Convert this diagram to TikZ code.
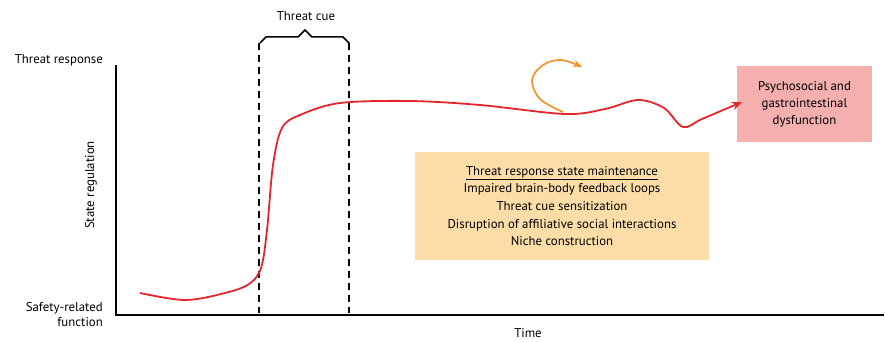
\documentclass[tikz,border=0pt]{standalone}
\usepackage{fontspec}
\setmainfont{PT Sans}
\usetikzlibrary{arrows.meta}
\definecolor{curvered}{HTML}{E2262B}
\definecolor{arcorange}{HTML}{F0932B}
\definecolor{pinkbox}{HTML}{F5AFAF}
\definecolor{orangebox}{HTML}{FCDDA8}
\tikzset{
  lbl/.style={font=\fontsize{12.8}{15}\selectfont, inner sep=0pt},
  axisline/.style={line width=1.7pt},
  cueline/.style={line width=1.7pt, dash pattern=on 7pt off 5pt},
  boxtext/.style={font=\fontsize{12.8}{17.6}\selectfont, align=center, inner sep=0pt}
}
\begin{document}
\begin{tikzpicture}[x=1pt,y=-1pt]
\useasboundingbox (0,0) rectangle (885,342);
% axes
\coordinate (ytop) at (116,65);
\coordinate (orig) at (116,315);
\coordinate (xend) at (884,315);
\draw[axisline] (ytop) -- (orig) -- (xend);
% axis labels
\node[lbl, anchor=east] (tr) at (103,60) {Threat response};
\node[lbl, anchor=east, align=right, font=\fontsize{12.8}{15}\selectfont] (sr) at (103,315) {Safety-related\\function};
\node[lbl, rotate=90] (stateReg) at (91,185) {State regulation};
\node[lbl] (time) at (528,333) {Time};
% threat cue dashed lines
\coordinate (d1t) at (259,43);
\coordinate (d1b) at (259,313);
\coordinate (d2t) at (349,43);
\coordinate (d2b) at (349,313);
\draw[cueline] (d1t) -- (d1b);
\draw[cueline] (d2t) -- (d2b);
% brace
\coordinate (b1) at (260,43);
\coordinate (b2) at (266,37);
\coordinate (b3) at (298,37);
\coordinate (bp) at (305,30);
\coordinate (b4) at (312,37);
\coordinate (b5) at (343,37);
\coordinate (b6) at (349,43);
\draw[line width=1.5pt, line join=miter] (b1) -- (b2) -- (b3) -- (bp) -- (b4) -- (b5) -- (b6);
\node[lbl] (cue) at (306,16) {Threat cue};
% boxes
\node[fill=pinkbox, minimum width=135pt, minimum height=76pt, inner sep=0pt, boxtext, font=\fontsize{12.8}{17}\selectfont] (outcome) at (804.5,104) {Psychosocial and\\gastrointestinal\\dysfunction};
\node[fill=orangebox, minimum width=294pt, minimum height=108pt, boxtext] (maint) at (562,206)
 {\underline{Threat response state maintenance}\\Impaired brain-body feedback loops\\Threat cue sensitization\\Disruption of affiliative social interactions\\Niche construction};
% red curve
\draw[curvered, line width=1.8pt, -{Stealth[length=10pt,width=8pt]}] plot[smooth, tension=0.55] coordinates {
 (140,293) (185,300) (225,293) (249,284) (261,268) (267,230) (273,165) (282,128) (300,115) (340,103) (410,101) (480,105) (565,114) (605,109) (638,100) (664,108) (683,127) (702,119) (742,102)};
\coordinate (curveend) at (742,102);
% orange loop
\draw[arcorange, line width=1.7pt, -{Stealth[length=9pt,width=7pt]}] plot[smooth, tension=0.6] coordinates {
 (563,112) (540,99) (532,80) (543,65) (561,60) (582,67)};
\end{tikzpicture}
\end{document}
